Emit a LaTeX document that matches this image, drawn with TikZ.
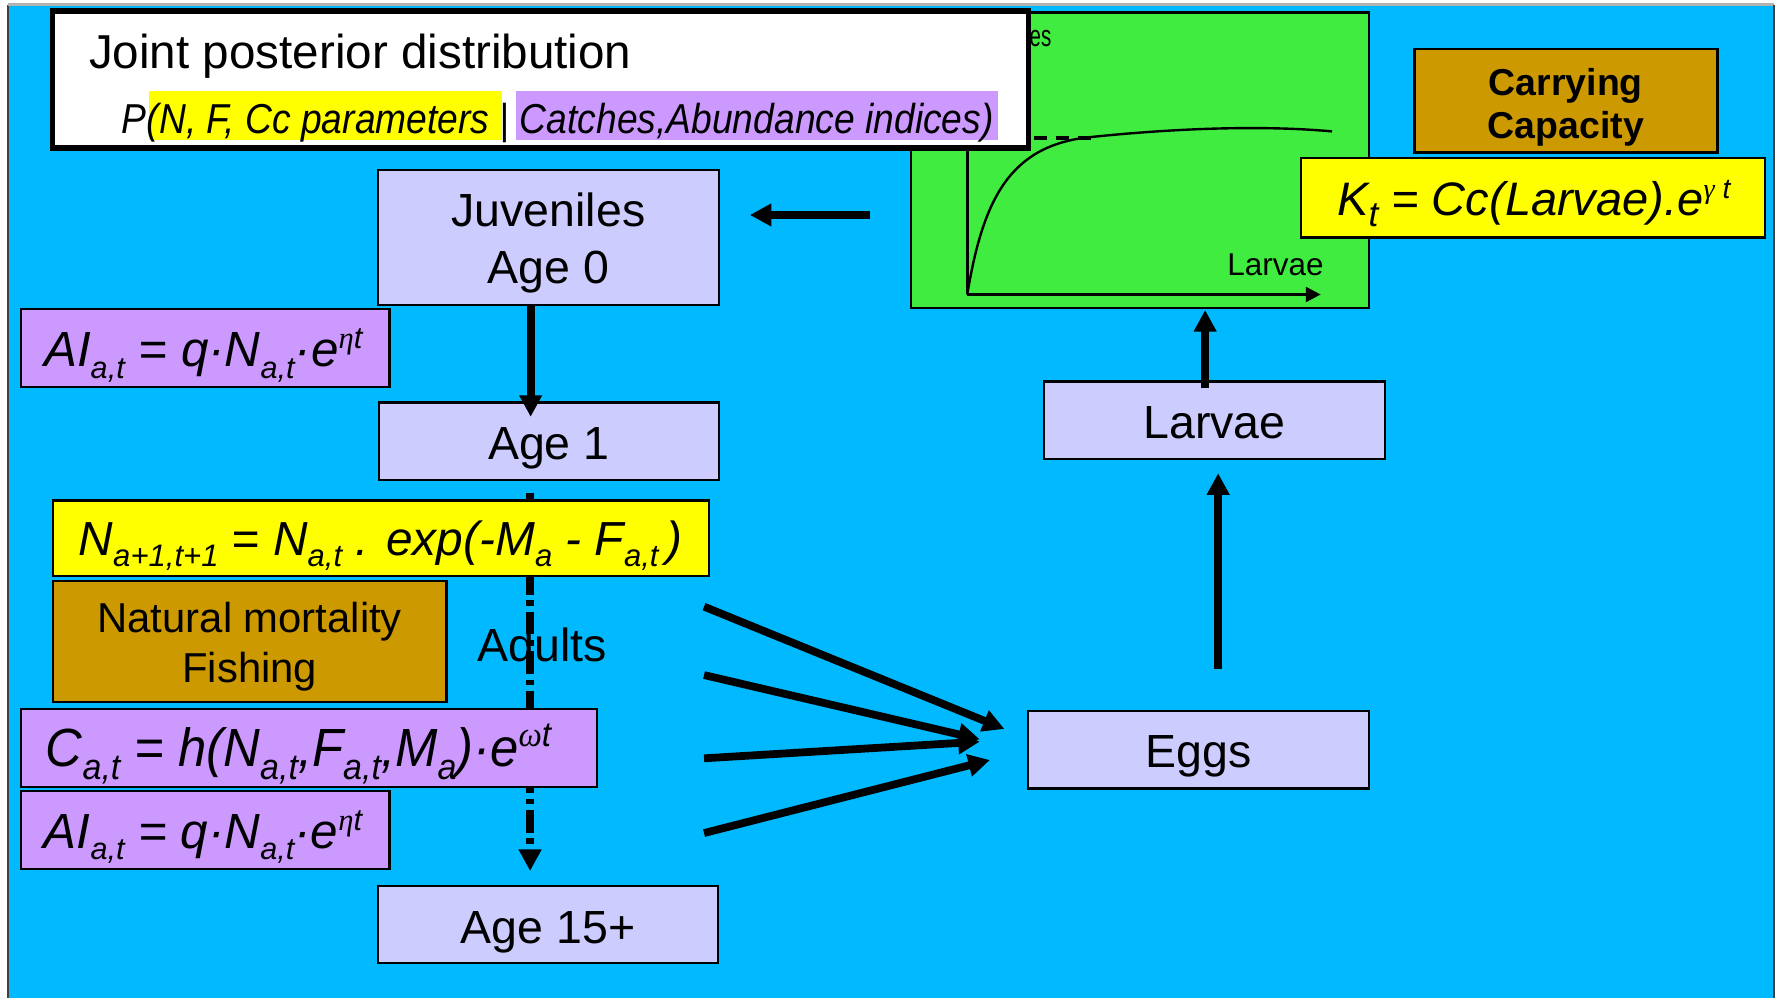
\documentclass[tikz,border=0pt]{standalone}
\usepackage{fontspec}
\usepackage{graphicx}
\setmainfont{Liberation Sans}
\newfontfamily\grkfont{Liberation Serif}
\usetikzlibrary{arrows.meta}

\definecolor{sea}{RGB}{0,185,255}
\definecolor{leaf}{RGB}{64,236,64}
\definecolor{lav}{RGB}{204,204,255}
\definecolor{lilac}{RGB}{204,153,255}
\definecolor{ochre}{RGB}{204,153,0}
\definecolor{lemon}{RGB}{255,255,0}

% subscripts, superscripts and Greek letters for the formulas
\newcommand\lowr[2][0.6]{\raisebox{-0.24em}{\scalebox{#1}{#2}}}
\newcommand\highr[2][0.6]{\raisebox{0.36em}{\scalebox{#1}{#2}}}
\newcommand\gk[1]{{\grkfont\itshape #1}}

\tikzset{
  box/.style={draw=black, line width=0.6pt, inner sep=0pt},
  sz/.style 2 args={minimum width=#1, minimum height=#2},
  lbl/.style={anchor=base, inner sep=0pt, font=\fontsize{11.67}{14}\selectfont},
  eqn/.style={anchor=base west, inner sep=0pt, font=\fontsize{12}{14}\selectfont\itshape},
  tip/.style={-{Triangle[length=0.19cm,width=0.19cm]}},
  flow/.style={tip, line width=1.95pt},
  axis/.style={line width=0.7pt, -{Triangle[length=0.13cm,width=0.13cm]}},
}

\begin{document}
\begin{tikzpicture}[x=0.01cm, y=-0.01cm]
\useasboundingbox (0,0) rectangle (1568,881);
\fill[white] (0,0) rectangle (1568,881);

% slide background
\fill[sea] (7,4) rectangle (1566,890);
\draw[black!75, line width=0.5pt] (7,890) -- (7,4);
\draw[black!30, line width=0.6pt] (7,4) -- (1566,4);
\draw[black!75, line width=0.5pt] (1566,4) -- (1566,890);

% stock-recruitment panel
\node[box, fill=leaf, sz={4.04cm}{2.61cm}] (plot) at (1006.4,141.5) {};
\coordinate (org) at (854,260);
\coordinate (xtip) at (1166,260);
\coordinate (ytip) at (854,30);
\draw[axis] (org) -- (xtip);
\draw[axis] (org) -- (ytip);
\draw[line width=0.6pt] (org) .. controls (868,175) and (892,128) .. (963,121)
  .. controls (1030,114) and (1110,110) .. (1176,116);
\coordinate (asl) at (854,121.5);
\coordinate (asr) at (965,121.5);
\draw[line width=1pt, dash pattern=on 0.12cm off 0.075cm] (asl) -- (asr);
\node[anchor=base east, inner sep=0pt, font=\fontsize{7.6}{9}\selectfont] (ylab) at (929,41.2) {\scalebox{0.68}[1]{Juveniles}};
\node[anchor=base west, inner sep=0pt, font=\fontsize{7.9}{10}\selectfont] (xlab) at (1083,243) {Larvae};

% title box
\node[draw=black, fill=white, line width=1.42pt, inner sep=0pt, sz={8.613cm}{1.206cm}] (title) at (477.2,70.2) {};
\node[fill=lemon, inner sep=0pt, sz={3.11cm}{0.436cm}] (hlA) at (287.5,101.8) {};
\node[fill=lilac, inner sep=0pt, sz={4.255cm}{0.436cm}] (hlB) at (668.2,101.8) {};
\node[anchor=base west, inner sep=0pt, font=\fontsize{11.95}{14}\selectfont] (ttl) at (78,60.5) {Joint posterior distribution};
\node[anchor=base west, inner sep=0pt, font=\fontsize{10.5}{12}\selectfont\itshape] (post) at (107,117.7)
  {\scalebox{0.89}[1]{P(N, F, Cc parameters | Catches,Abundance indices)}};

% carrying capacity
\node[box, fill=ochre, sz={2.675cm}{0.912cm}] (cap) at (1382.5,88.9) {};
\node[anchor=base, inner sep=0pt, font=\fontsize{9.4}{11}\selectfont\bfseries] (capa) at (1382.5,83.9) {Carrying};
\node[anchor=base, inner sep=0pt, font=\fontsize{9.4}{11}\selectfont\bfseries] (capb) at (1382.5,122.1) {Capacity};
\node[box, fill=lemon, sz={4.095cm}{0.703cm}] (kbox) at (1353.3,174.4) {};
\node[eqn, font=\fontsize{11.8}{14}\selectfont\itshape] (keq) at (1180,190)
  {K\lowr[0.75]{t} = Cc(Larvae).e\highr{\gk{γ} t}};

% ageing of the adults
\coordinate (da) at (468,435);
\coordinate (db) at (468,769);
\draw[tip, line width=1.95pt, dash pattern=on 0.2cm off 0.05cm on 0.05cm off 0.05cm] (da) -- (db);

% population stages
\node[box, fill=lav, sz={3.01cm}{1.19cm}] (juv) at (484.2,209.5) {};
\node[lbl] (juva) at (484.2,200.1) {Juveniles};
\node[lbl] (juvb) at (484.2,250.7) {Age 0};
\node[box, fill=lav, sz={3.0cm}{0.685cm}] (age1) at (484.6,389.7) {};
\node[lbl] (age1t) at (484.6,406) {Age 1};
\node[box, fill=lav, sz={3.0cm}{0.684cm}] (age15) at (484,816.2) {};
\node[lbl] (age15t) at (484,833) {Age 15+};
\node[box, fill=lav, sz={3.01cm}{0.68cm}] (larv) at (1072.2,371) {};
\node[lbl] (larvt) at (1072.2,386.8) {Larvae};
\node[box, fill=lav, sz={3.01cm}{0.68cm}] (eggs) at (1058.2,662) {};
\node[lbl] (eggst) at (1058.2,678) {Eggs};

% observation and process equations
\node[box, fill=lilac, sz={3.25cm}{0.686cm}] (aitop) at (181.3,307.1) {};
\node[eqn, font=\fontsize{12.4}{14}\selectfont\itshape] (aitopt) at (38.2,323.7)
  {AI\lowr[0.62]{a,t} = q·N\lowr[0.62]{a,t}·e\highr[0.62]{\gk{η}t}};
\node[box, fill=lemon, sz={5.793cm}{0.665cm}] (surv) at (336.4,475.3) {};
\node[eqn] (survt) at (68.8,490)
  {N\lowr[0.65]{a+1,t+1} = N\lowr[0.65]{a,t} . exp(-M\lowr[0.65]{a} - F\lowr[0.65]{a,t}\,)};
\node[box, fill=ochre, sz={3.472cm}{1.07cm}] (mort) at (220.4,566.5) {};
\node[anchor=base, inner sep=0pt, font=\fontsize{10.5}{12}\selectfont] (morta) at (220.5,558.3) {Natural mortality};
\node[anchor=base, inner sep=0pt, font=\fontsize{10.5}{12}\selectfont] (mortb) at (220.5,602.7) {Fishing};
\node[box, fill=lilac, sz={5.082cm}{0.685cm}] (catch) at (272.9,660.3) {};
\node[eqn, font=\fontsize{13.5}{15}\selectfont\itshape] (catcht) at (39.8,676.5)
  {\scalebox{0.945}[1]{C\lowr[0.67]{a,t} = h(N\lowr[0.67]{a,t},F\lowr[0.67]{a,t},M\lowr[0.67]{a})·e\highr[0.65]{\gk{ω}t}}};
\node[box, fill=lilac, sz={3.25cm}{0.687cm}] (aibot) at (181.2,732.7) {};
\node[eqn, font=\fontsize{12.4}{14}\selectfont\itshape] (aibott) at (38,748.7)
  {AI\lowr[0.62]{a,t} = q·N\lowr[0.62]{a,t}·e\highr[0.62]{\gk{η}t}};

\node[anchor=base west, inner sep=0pt, font=\fontsize{11.67}{14}\selectfont] (adults) at (421,583.6) {Adults};

% flows between stages
\coordinate (j0) at (768,189.8);
\coordinate (j1) at (662,189.8);
\draw[flow] (j0) -- (j1);
\coordinate (ja) at (468.5,269);
\coordinate (jb) at (468.5,368);
\draw[flow] (ja) -- (jb);

\coordinate (s1) at (621.6,535.6);  \coordinate (t1) at (886.8,643.6);
\coordinate (s2) at (621.6,596);    \coordinate (t2) at (865,652.7);
\coordinate (s3) at (621.6,669.5);  \coordinate (t3) at (865,654.8);
\coordinate (s4) at (621.6,735.5);  \coordinate (t4) at (874,671);
\draw[flow] (s1) -- (t1);
\draw[flow] (s2) -- (t2);
\draw[flow] (s3) -- (t3);
\draw[flow] (s4) -- (t4);

\coordinate (e0) at (1075.5,590.6);
\coordinate (e1) at (1075.5,417.8);
\draw[flow] (e0) -- (e1);
\coordinate (l0) at (1064,342.6);
\coordinate (l1) at (1064,273.7);
\draw[flow] (l0) -- (l1);
\end{tikzpicture}
\end{document}
